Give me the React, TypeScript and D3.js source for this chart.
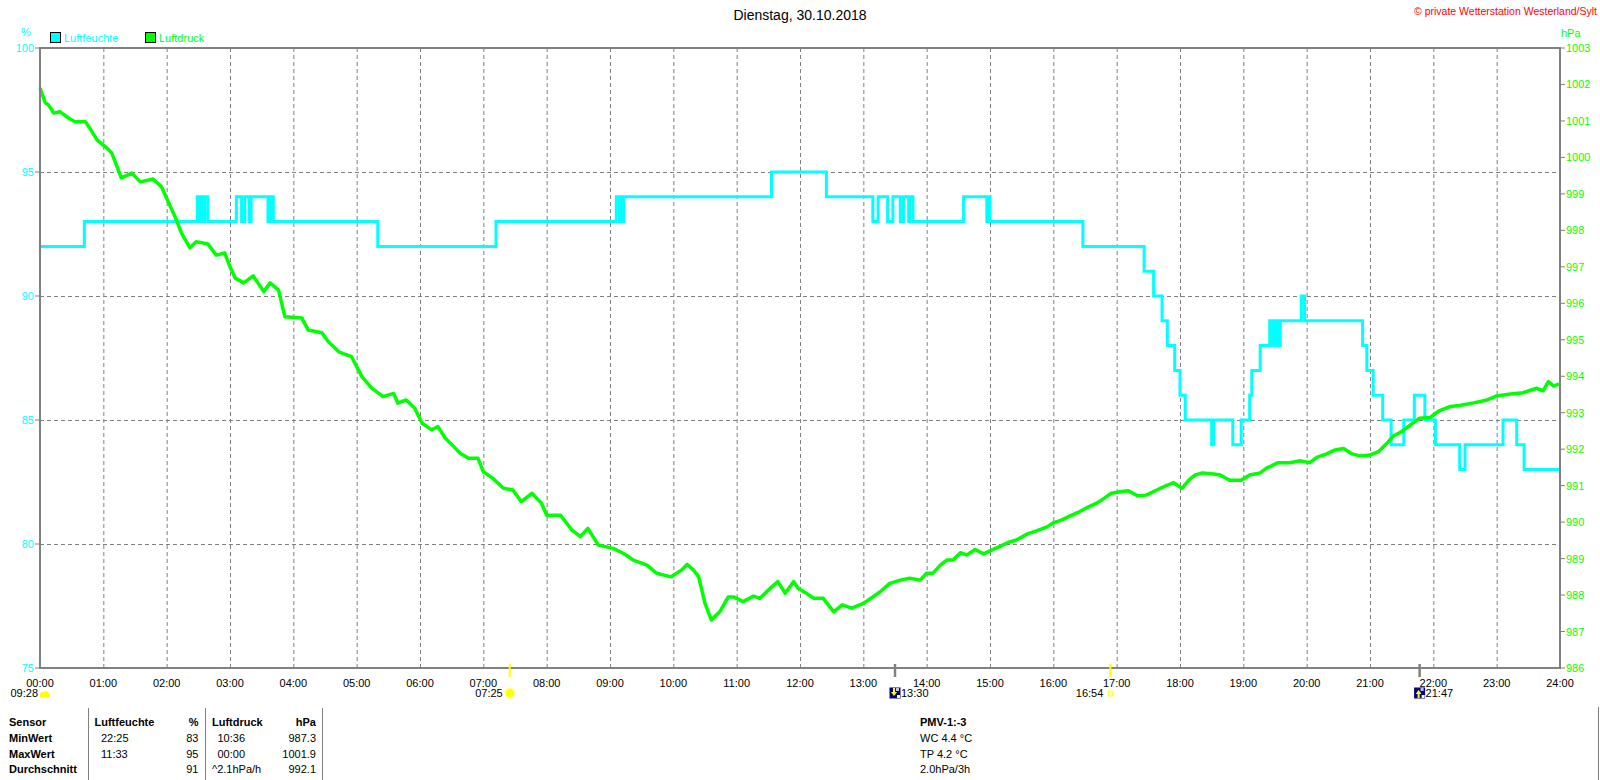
import React from 'react';
import * as d3 from 'd3';

// pressure samples, minutes after midnight / hPa
const pressTimes = [0,5,8,13,19,27,33,43,47,54,62,68,73,77,87,95,107,115,122,128,134,142,148,159,167,175,180,185,193,202,212,218,226,232,248,254,267,273,283,295,305,314,325,335,339,347,355,362,371,377,384,392,398,406,415,420,429,439,448,456,466,475,480,493,499,504,512,519,529,543,553,562,575,584,598,608,613,619,624,630,636,644,652,657,666,676,682,692,699,706,714,718,726,733,742,752,760,769,780,789,796,805,815,824,834,840,846,853,859,865,872,878,886,894,902,909,917,925,935,944,954,960,968,976,985,993,1001,1007,1015,1023,1031,1040,1048,1058,1066,1074,1082,1088,1094,1101,1112,1118,1127,1138,1146,1156,1162,1173,1184,1194,1203,1210,1219,1227,1235,1243,1251,1260,1268,1276,1282,1290,1298,1307,1317,1326,1336,1345,1358,1371,1380,1393,1405,1418,1424,1429,1434,1439];
const pressValues = [1001.9,1001.5,1001.44,1001.22,1001.25,1001.08,1000.98,1000.98,1000.81,1000.48,1000.29,1000.12,999.75,999.44,999.57,999.33,999.41,999.2,998.75,998.37,997.93,997.52,997.69,997.63,997.32,997.38,997.0,996.69,996.56,996.75,996.32,996.56,996.36,995.63,995.6,995.27,995.19,994.95,994.67,994.54,993.99,993.68,993.44,993.53,993.26,993.35,993.12,992.71,992.53,992.62,992.3,992.07,991.89,991.75,991.75,991.38,991.2,990.93,990.88,990.56,990.79,990.52,990.19,990.19,989.97,989.78,989.6,989.83,989.37,989.28,989.14,988.96,988.82,988.6,988.5,988.69,988.84,988.69,988.5,987.77,987.32,987.54,987.95,987.95,987.82,987.97,987.91,988.19,988.37,988.05,988.37,988.19,988.05,987.91,987.91,987.54,987.73,987.64,987.77,987.95,988.09,988.32,988.41,988.46,988.41,988.6,988.6,988.82,988.96,988.96,989.16,989.1,989.25,989.13,989.24,989.33,989.44,989.51,989.67,989.76,989.87,989.98,990.06,990.17,990.29,990.41,990.52,990.63,990.79,990.83,990.86,990.72,990.74,990.88,990.99,991.08,990.93,991.14,991.29,991.35,991.32,991.29,991.15,991.15,991.29,991.35,991.48,991.63,991.63,991.68,991.63,991.78,991.87,991.98,992.02,991.87,991.81,991.84,991.93,992.16,992.36,992.48,992.66,992.85,992.87,993.06,993.17,993.2,993.27,993.35,993.46,993.51,993.55,993.67,993.6,993.85,993.73,993.79];

// humidity: value changes (step line), minutes / %
const humTimes = [0,42,149,151,153,154,156,159,186,191,194,198,200,216,217,219,220,221,320,432,546,549,551,552,553,693,745,789,794,803,808,815,818,823,824,827,875,897,899,900,988,1046,1055,1063,1068,1075,1080,1085,1110,1112,1130,1138,1146,1148,1156,1165,1167,1168,1170,1172,1173,1175,1195,1198,1253,1257,1263,1272,1280,1292,1302,1312,1322,1345,1350,1386,1399,1406,1439];
const humValues = [92,93,94,93,94,93,94,93,94,93,94,93,94,93,94,93,94,93,92,93,94,93,94,93,94,95,94,93,94,93,94,93,94,93,94,93,94,93,94,93,92,91,90,89,88,87,86,85,84,85,84,85,86,87,88,89,88,89,88,89,88,89,90,89,88,87,86,85,84,85,86,85,84,83,84,85,84,83,83];

const hourLabels = ['00:00','01:00','02:00','03:00','04:00','05:00','06:00','07:00','08:00','09:00','10:00','11:00','12:00','13:00','14:00','15:00','16:00','17:00','18:00','19:00','20:00','21:00','22:00','23:00','24:00'];
const humTicks = [100, 95, 90, 85, 80, 75];
const pressTicks = [1003,1002,1001,1000,999,998,997,996,995,994,993,992,991,990,989,988,987,986];

// sun / moon events under the axis
const eventLabels = ['09:28', '07:25', '13:30', '16:54', '21:47'];
const eventMinutes = [0, 445, 810, 1014, 1307];
const eventKinds = ['cloud', 'sun', 'down', 'dusk', 'up'];

const statRows = ['Sensor', 'MinWert', 'MaxWert', 'Durchschnitt'];
const humStatTimes = ['22:25', '11:33', ''];
const humStatValues = ['83', '95', '91'];
const pressStatTimes = ['10:36', '00:00', '^2.1hPa/h'];
const pressStatValues = ['987.3', '1001.9', '992.1'];
const pmvLines = ['PMV-1:-3', 'WC 4.4 °C', 'TP 4.2 °C', '2.0hPa/3h'];

const FONT = 'Liberation Sans, Arial, sans-serif';
const CYAN = '#00FFFF';
const GREEN = '#00FF00';
const GRAY = '#808080';

export default function App() {
    const left = 40, right = 1560, top = 48, bottom = 668;

    const x = d3.scaleLinear().domain([0, 1440]).range([left, right]);
    const yHum = d3.scaleLinear().domain([75, 100]).range([bottom, top]);
    const yPress = d3.scaleLinear().domain([986, 1003]).range([bottom, top]);

    const humData = humTimes.map((t, i) => [t, humValues[i]] as [number, number]);
    const pressData = pressTimes.map((t, i) => [t, pressValues[i]] as [number, number]);

    const humLine = d3.line<[number, number]>()
        .x(d => x(d[0]))
        .y(d => yHum(d[1]))
        .curve(d3.curveStepAfter);
    const pressLine = d3.line<[number, number]>()
        .x(d => x(d[0]))
        .y(d => yPress(d[1]));

    const evY = 693;

    const drawIcon = (kind: string, cx: number) => {
        if (kind === 'cloud') {
            return <path d={`M${cx - 5},${evY + 4} L${cx - 5},${evY + 1} Q${cx - 4},${evY - 2} ${cx - 1},${evY - 1} Q${cx + 1},${evY - 3} ${cx + 3},${evY - 1} Q${cx + 5},${evY} ${cx + 5},${evY + 4} Z`} fill="#FFFF00" />;
        }
        if (kind === 'sun') {
            return <g>
                <circle cx={cx} cy={evY} r={6} fill="#FFFFB0" />
                <circle cx={cx} cy={evY} r={4} fill="#FFFF00" />
            </g>;
        }
        if (kind === 'dusk') {
            return <rect x={cx - 2} y={evY - 2} width={4} height={5} fill="none" stroke="#FFFF00" strokeWidth={1} />;
        }
        const up = kind === 'up';
        return <g>
            <rect x={cx - 5.5} y={evY - 5.5} width={11} height={11} fill="#000080" />
            <rect x={cx + 1} y={evY - 5} width={3} height={3} fill="#C0C0FF" />
            <rect x={cx + 2} y={evY + 2} width={3} height={3} fill="#FFFFFF" />
            {up
                ? <path d={`M${cx - 1},${evY - 3} L${cx + 2},${evY + 1} L${cx},${evY + 1} L${cx},${evY + 5} L${cx - 2},${evY + 5} L${cx - 2},${evY + 1} L${cx - 4},${evY + 1} Z`} fill="#FFFF00" />
                : <path d={`M${cx - 1},${evY + 3} L${cx + 2},${evY - 1} L${cx},${evY - 1} L${cx},${evY - 5} L${cx - 2},${evY - 5} L${cx - 2},${evY - 1} L${cx - 4},${evY - 1} Z`} fill="#FFFF00" />}
        </g>;
    };

    return (
        <svg width={1600} height={780} style={{ position: 'absolute', left: 0, top: 0, background: '#fff' }} fontFamily={FONT}>
            {/* header */}
            <text x={800} y={20} textAnchor="middle" fontSize={14} fill="#000">Dienstag, 30.10.2018</text>
            <text x={1597} y={15} textAnchor="end" fontSize={10.5} fill="#FF0000">© private Wetterstation Westerland/Sylt</text>

            {/* legend */}
            <rect x={50.5} y={32.5} width={10} height={10} fill={CYAN} stroke="#000" />
            <text x={64} y={41.5} fontSize={11} fill={CYAN}>Luftfeuchte</text>
            <rect x={145.5} y={32.5} width={10} height={10} fill={GREEN} stroke="#000" />
            <text x={159} y={41.5} fontSize={11} fill={GREEN}>Luftdruck</text>

            {/* axis units */}
            <text x={26} y={36} textAnchor="middle" fontSize={11} fill={CYAN}>%</text>
            <text x={1561} y={37} fontSize={11} fill={GREEN}>hPa</text>

            {/* grid */}
            {hourLabels.slice(1, -1).map((_, i) => (
                <line key={'vg' + i} x1={x((i + 1) * 60) + 0.5} x2={x((i + 1) * 60) + 0.5} y1={top} y2={bottom}
                    stroke={GRAY} strokeWidth={1} strokeDasharray="4,3" />
            ))}
            {humTicks.slice(1, -1).map(v => (
                <line key={'hg' + v} x1={left} x2={right} y1={yHum(v) + 0.5} y2={yHum(v) + 0.5}
                    stroke={GRAY} strokeWidth={1} strokeDasharray="4,3" />
            ))}

            {/* series */}
            <path d={humLine(humData) || ''} fill="none" stroke={CYAN} strokeWidth={3} />
            <path d={pressLine(pressData) || ''} fill="none" stroke={GREEN} strokeWidth={3.5} strokeLinejoin="round" />

            {/* frame */}
            <line x1={left} x2={right} y1={top} y2={top} stroke={GRAY} strokeWidth={2} />
            <line x1={left} x2={right + 1} y1={bottom} y2={bottom} stroke={GRAY} strokeWidth={2} />
            <line x1={left} x2={left} y1={top - 1} y2={bottom + 1} stroke={GRAY} strokeWidth={2} />
            <line x1={right} x2={right} y1={top - 1} y2={bottom + 1} stroke={GRAY} strokeWidth={2} />

            {/* left axis */}
            {humTicks.map(v => (
                <g key={'ht' + v}>
                    <line x1={left - 5} x2={left} y1={yHum(v)} y2={yHum(v)} stroke={GRAY} strokeWidth={1} />
                    <text x={34} y={yHum(v) + 4} textAnchor="end" fontSize={11} fill={CYAN}>{v}</text>
                </g>
            ))}
            {/* right axis */}
            {pressTicks.map(v => (
                <g key={'pt' + v}>
                    <line x1={right} x2={right + 5} y1={yPress(v)} y2={yPress(v)} stroke={GRAY} strokeWidth={1} />
                    <text x={right + 6} y={yPress(v) + 4} fontSize={11} fill={GREEN}>{v}</text>
                </g>
            ))}
            {/* time axis */}
            {hourLabels.map((lab, i) => (
                <text key={lab} x={x(i * 60)} y={686.5} textAnchor="middle" fontSize={11} fill="#000">{lab}</text>
            ))}

            {/* events */}
            {eventLabels.map((lab, i) => {
                const kind = eventKinds[i];
                const px = x(eventMinutes[i]);
                const cx = kind === 'cloud' ? px + 5 : px;
                const textRight = kind === 'up' || kind === 'down';
                return <g key={lab}>
                    {i > 0 && <line x1={px} x2={px} y1={664} y2={677}
                        stroke={kind === 'sun' || kind === 'dusk' ? '#FFFF00' : GRAY} strokeWidth={kind === 'sun' || kind === 'dusk' ? 2 : 2.5} />}
                    {drawIcon(kind, cx)}
                    <text x={textRight ? cx + 6 : cx - 7} y={evY + 4} textAnchor={textRight ? 'start' : 'end'} fontSize={11} fill="#000">{lab}</text>
                </g>;
            })}

            {/* statistics table */}
            {[88.5, 205.5, 322.5].map(lx => (
                <line key={'tl' + lx} x1={lx} x2={lx} y1={708} y2={780} stroke={GRAY} strokeWidth={1} />
            ))}
            <line x1={1598.5} x2={1598.5} y1={707} y2={780} stroke={GRAY} strokeWidth={1} />
            {statRows.map((r, i) => (
                <text key={r} x={9} y={726 + i * 15.8} fontSize={11} fontWeight="bold" fill="#000">{r}</text>
            ))}
            <text x={94.5} y={726} fontSize={11} fontWeight="bold" fill="#000">Luftfeuchte</text>
            <text x={198.5} y={726} textAnchor="end" fontSize={11} fontWeight="bold" fill="#000">%</text>
            <text x={212} y={726} fontSize={11} fontWeight="bold" fill="#000">Luftdruck</text>
            <text x={316} y={726} textAnchor="end" fontSize={11} fontWeight="bold" fill="#000">hPa</text>
            {humStatValues.map((v, i) => (
                <g key={'hs' + i}>
                    <text x={101} y={741.8 + i * 15.8} fontSize={11} fill="#000">{humStatTimes[i]}</text>
                    <text x={198.5} y={741.8 + i * 15.8} textAnchor="end" fontSize={11} fill="#000">{v}</text>
                </g>
            ))}
            {pressStatValues.map((v, i) => (
                <g key={'ps' + i}>
                    <text x={i === 2 ? 212 : 217.5} y={741.8 + i * 15.8} fontSize={11} fill="#000">{pressStatTimes[i]}</text>
                    <text x={316} y={741.8 + i * 15.8} textAnchor="end" fontSize={11} fill="#000">{v}</text>
                </g>
            ))}
            {pmvLines.map((t, i) => (
                <text key={t} x={920} y={726 + i * 15.8} fontSize={11} fontWeight={i === 0 ? 'bold' : 'normal'} fill="#000">{t}</text>
            ))}
        </svg>
    );
}
